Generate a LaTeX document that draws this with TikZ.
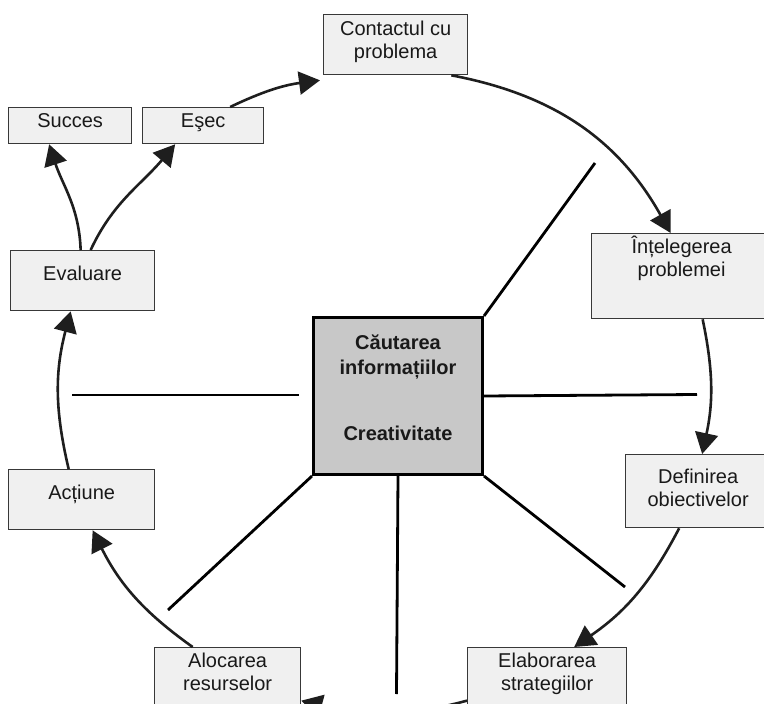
\documentclass[tikz,border=0pt]{standalone}
\usepackage{fontspec}
\setmainfont{Liberation Sans}
\usepackage{tikz}
\usetikzlibrary{arrows.meta, calc}
\definecolor{boxfill}{RGB}{240, 240, 240}
\definecolor{boxline}{RGB}{56, 56, 56}
\definecolor{centrefill}{RGB}{200, 200, 200}
\definecolor{arcline}{RGB}{30, 30, 30}
\definecolor{inktext}{RGB}{25, 25, 25}

\begin{document}
\begin{tikzpicture}[
    x=1pt, y=1pt,
    >={Triangle[length=21pt, width=23pt]},
    font=\fontsize{20}{22.5}\selectfont,
    box/.style={anchor=north west, draw=boxline, fill=boxfill, line width=1.3pt,
                inner sep=0pt, align=center, text=inktext},
    centre/.style={anchor=north west, draw=black, fill=centrefill, line width=3pt,
                inner sep=0pt, align=center, text=inktext,
                font=\fontsize{20}{25}\selectfont\bfseries},
    cycle/.style={->, draw=arcline, line width=2.6pt},
    spoke/.style={draw=black, line width=2.8pt},
]
    \useasboundingbox (0,0) rectangle (764,-704);

    % --- Centre ---
    \node[centre, minimum width=169, text height=123, text depth=34] (cauta) at (312,-316)
        {Căutarea\\informațiilor\\[41pt]Creativitate};

    % --- Spokes ---
    \coordinate (sTR) at (595,-163);
    \coordinate (sR)  at (697,-394.5);
    \coordinate (sLa) at (72,-395);
    \coordinate (sLb) at (299,-395);
    \coordinate (sBL) at (168,-610);
    \coordinate (sB)  at (396.5,-694);
    \coordinate (sBR) at (625,-587);
    \draw[spoke] (cauta.north east) -- (sTR);
    \draw[spoke] (cauta.east) -- (sR);
    \draw[spoke] (sLa) -- (sLb);
    \draw[spoke] (cauta.south west) -- (sBL);
    \draw[spoke] (cauta.south) -- (sB);
    \draw[spoke] (cauta.south east) -- (sBR);

    % --- Steps round the circle ---
    \node[box, minimum width=144, text height=43.5, text depth=16.5] (contact) at (323,-14) {Contactul cu\\problema};
    \node[box, minimum width=180, text height=42.5, text depth=42.5] (intel) at (591,-233) {Înțelegerea\\problemei};
    \node[box, minimum width=145, text height=51.5, text depth=21.5] (defin) at (625,-454) {Definirea\\obiectivelor};
    \node[box, minimum width=159, text height=42.5, text depth=63.5] (elab) at (467,-647) {Elaborarea\\strategiilor};
    \node[box, minimum width=146, text height=42.5, text depth=63.5] (aloc) at (154,-647) {Alocarea\\resurselor};
    \node[box, minimum width=146, text height=30, text depth=30] (actiune) at (8,-469) {Acțiune};
    \node[box, minimum width=144, text height=30, text depth=30] (evaluare) at (10,-250) {Evaluare};
    \node[box, minimum width=123, text height=20, text depth=16] (succes) at (8,-107) {Succes};
    \node[box, minimum width=121, text height=20, text depth=16] (esec) at (142,-107) {Eşec};

    % --- Arrows ---
    \draw[cycle] ([xshift=-17pt]contact.south east) to[bend left=25] ([xshift=-11pt]intel.north);
    \draw[cycle] ([xshift=21pt]intel.south) to[bend left=12] ([xshift=4pt]defin.north);
    \draw[cycle] ([xshift=-19pt]defin.south) to[bend left=14] ([xshift=27pt]elab.north);
    \draw[cycle] (elab.west) to[bend left=15] (aloc.east);
    \draw[cycle] ([xshift=-35pt]aloc.north) to[bend left=14] ([xshift=11pt]actiune.south);
    \draw[cycle] ([xshift=-13pt]actiune.north) to[bend left=14] ([xshift=-12pt]evaluare.south);
    \draw[cycle] ([xshift=8pt]evaluare.north) to[out=65, in=-130] ([xshift=-28pt]esec.south);
    \draw[cycle] ([xshift=-2pt]evaluare.north) to[out=92, in=-72] ([xshift=-21pt]succes.south);
    \draw[cycle] ([xshift=27pt]esec.north) to[bend left=9] ([xshift=-3pt, yshift=-5pt]contact.south west);
\end{tikzpicture}
\end{document}
